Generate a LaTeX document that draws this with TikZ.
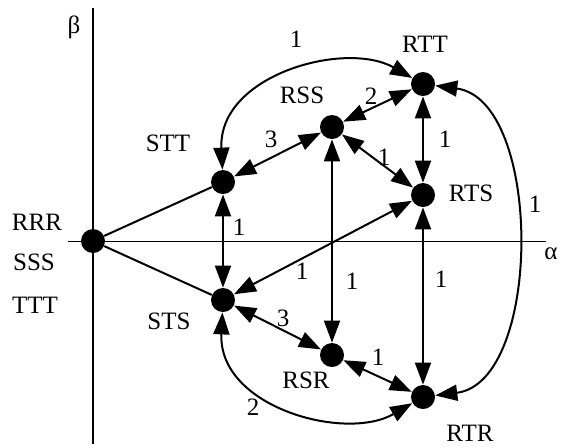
\documentclass[tikz,border=0pt]{standalone}
\usepackage{fontspec}
\setmainfont{Liberation Serif}
\usetikzlibrary{arrows.meta}

\begin{document}
\begin{tikzpicture}[
    x=0.5pt, y=-0.5pt,
    state/.style={circle, fill=black, minimum size=12pt, inner sep=0pt},
    lbl/.style={inner sep=0pt, font=\fontsize{12.5}{14}\selectfont},
    link/.style={{Triangle[length=11pt,width=8pt]}-{Triangle[length=11pt,width=8pt]}, line width=1pt},
    plain/.style={line width=1pt},
    thinaxis/.style={line width=0.5pt}
]
\useasboundingbox (0,0) rectangle (566,447);

% Axes
\coordinate (btop) at (93,8);
\coordinate (bbot) at (93,444);
\coordinate (aleft) at (68,241);
\coordinate (aright) at (546,241);
\draw[plain] (btop) -- (bbot);
\draw[thinaxis] (aleft) -- (aright);
\node[lbl] (beta) at (74,27) {β};
\node[lbl] (alpha) at (551,254) {α};

% States
\node[state] (o) at (93,241) {};
\node[state] (stt) at (223,182) {};
\node[state] (sts) at (223,300) {};
\node[state] (rss) at (332,127) {};
\node[state] (rtt) at (423,84) {};
\node[state] (rts) at (423,195) {};
\node[state] (rsr) at (332,355) {};
\node[state] (rtr) at (423,397) {};

% State names
\node[lbl] (nrrr) at (37,222) {RRR};
\node[lbl] (nsss) at (34,262) {SSS};
\node[lbl] (nttt) at (35,305) {TTT};
\node[lbl] (nstt) at (168,143) {STT};
\node[lbl] (nsts) at (169,321) {STS};
\node[lbl] (nrss) at (302,95) {RSS};
\node[lbl] (nrtt) at (425,44) {RTT};
\node[lbl] (nrts) at (471,193) {RTS};
\node[lbl] (nrsr) at (306,380) {RSR};
\node[lbl] (nrtr) at (470,433) {RTR};

% Weights
\node[lbl] (wtop) at (296,39) {1};
\node[lbl] (wrss) at (371,96) {2};
\node[lbl] (wstt) at (271,139) {3};
\node[lbl] (wrs) at (384,157) {1};
\node[lbl] (wrt) at (445,139) {1};
\node[lbl] (wright) at (535,204) {1};
\node[lbl] (wst) at (239,227) {1};
\node[lbl] (wcross) at (302,271) {1};
\node[lbl] (wrsr) at (352,281) {1};
\node[lbl] (wrtr) at (441,279) {1};
\node[lbl] (wsts) at (283,318) {3};
\node[lbl] (wbot) at (378,357) {1};
\node[lbl] (wlow) at (253,407) {2};

% Connectors
\draw[plain] (o) -- (stt);
\draw[plain] (o) -- (sts);
\draw[link] (stt) -- (sts);
\draw[link] (stt) -- (rss);
\draw[link] (rss) -- (rtt);
\draw[link] (rss) -- (rts);
\draw[link] (rtt) -- (rts);
\draw[link] (rts) -- (sts);
\draw[link] (rss) -- (rsr);
\draw[link] (rts) -- (rtr);
\draw[link] (sts) -- (rsr);
\draw[link] (rsr) -- (rtr);
\draw[link] (stt) .. controls (218,75) and (345,40) .. (rtt);
\draw[link] (sts) .. controls (218,407) and (345,442) .. (rtr);
\draw[link] (rtt) .. controls (543,100) and (543,382) .. (rtr);

\end{tikzpicture}
\end{document}
